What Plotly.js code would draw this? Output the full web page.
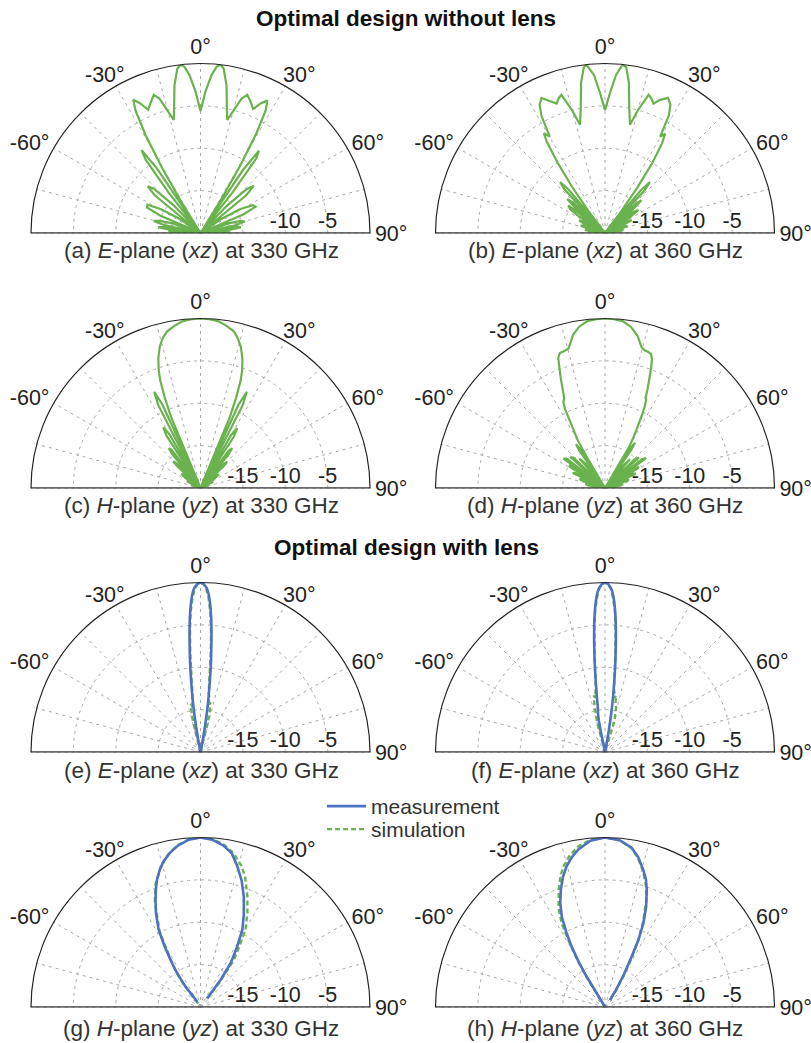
<!DOCTYPE html>
<html><head><meta charset="utf-8">
<script src="https://cdn.plot.ly/plotly-3.0.1.min.js"></script>
<style>html,body{margin:0;padding:0;background:#fff}#chart{width:811px;height:1043px}</style>
</head><body><div id="chart"></div>
<script>
// ---------- data (theta in degrees, r in dB) ----------
// (a) E-plane (xz) 330 GHz, without lens
const thetaA = [-90,-88,-86.5,-85,-83.5,-82,-80.5,-79,-77.5,-75.5,-73.5,-71,-68.5,-66.5,-64.5,-62,-59,-56,-52.5,-50.5,-48.5,-46.5,-44,-40,-38.3,-36.8,-35.4,-34,-32.8,-31.8,-30.6,-29.3,-28,-26.8,-25,-23,-20.5,-18.7,-17,-15,-13.3,-11.8,-10,-8,-6.8,-5.5,-4,-2,0,2,4,5.5,6.8,8,10,11.8,13.3,15,17,18.7,20.5,23,25,26.8,28,29.3,30.6,31.8,32.8,34,35.4,36.8,38.3,40,44,46.5,48.5,50.5,52.5,56,59,62,64.5,66.5,68.5,71,73.5,75.5,77.5,79,80.5,82,83.5,85,86.5,88,90];
const rA = [-20,-16.8,-16.2,-20,-16,-15,-15.6,-20,-15.5,-14.3,-15,-16.5,-20,-14.8,-13,-12.9,-14.5,-17,-20,-13,-11.7,-12.4,-15.5,-20,-14,-9.2,-8,-10.8,-20,-16,-11.2,-6.8,-3.7,-2.4,-3.1,-4.2,-3.4,-2.8,-3.4,-5.1,-6.3,-4.8,-2.3,-0.4,0,-0.3,-1.3,-3.3,-5.6,-3.3,-1.3,-0.3,0,-0.4,-2.3,-4.8,-6.3,-5.1,-3.4,-2.8,-3.3,-4.1,-3.1,-2.5,-3.6,-6.5,-11,-16,-20,-11,-8.1,-9,-14,-20,-15.5,-12.5,-11.6,-13,-20,-17,-14.5,-13,-12.8,-14.5,-20,-16.5,-15,-14.6,-15.8,-20,-15.5,-15.2,-16.5,-20,-16.5,-17,-20];

// (b) E-plane (xz) 360 GHz, without lens
const thetaB = [-90,-87.5,-85,-83,-81,-79,-77,-75,-73,-71,-68,-66,-64,-62,-59.5,-57.5,-55.5,-53,-51,-49.5,-48,-46.5,-44.5,-43,-41.4,-40,-38.5,-37,-35.5,-34,-32.5,-31.5,-29.8,-28.5,-27,-25.2,-22.8,-20.5,-19,-17.5,-15,-13,-11,-9,-7.3,-6.3,-4,-2,0,2,4,6,7.3,9,11,13,15,17.5,19,20.5,22.5,25,27,28.5,29.8,31.2,32.5,34,35.5,37,38.5,40,41.4,43,44.5,46.5,48,49.5,51,53.5,55.5,57.5,59.5,62,64,66,68,71,73,75,77,79,81,83,85,87.5,90];
const rB = [-20,-18.6,-20,-18.2,-17.6,-18,-20,-17.8,-17,-17.3,-20,-17.3,-16.6,-17,-20,-16.2,-15,-14.6,-20,-15.3,-14,-14.8,-20,-13,-12,-13.3,-20,-16.8,-13.3,-10,-7.2,-6.2,-6.9,-4.3,-3,-2.4,-3.1,-3.7,-3.2,-2.9,-5,-6.9,-5,-2,-0.3,0,-1.3,-3.5,-5.5,-3.5,-1.3,0,-0.3,-2,-5,-6.9,-5,-2.9,-3.2,-3.7,-3,-2.4,-3,-4.2,-6.9,-6.3,-7.5,-10,-13.5,-17,-20,-13.5,-12,-13.2,-20,-15,-14.2,-15.5,-20,-15.8,-15.2,-16.5,-20,-17,-16.5,-17.5,-20,-17.5,-17.2,-18,-20,-18,-17.8,-18.5,-20,-18.8,-20];

// (c) H-plane (yz) 330 GHz, without lens
const thetaC = [-90,-84,-78,-72,-66,-64,-62,-58,-56,-54,-52,-49,-47,-45.5,-44,-41.5,-40,-38.5,-37,-34.5,-33,-31.5,-30,-28,-27,-25.7,-24.5,-23.5,-22.5,-21.5,-20.5,-19.5,-18,-16,-14,-12,-9,-6,-3,0,3,6,9,12,14,16,18,19.5,20.5,21.5,22.5,23.5,24.5,25.7,27,28,30,31.5,33,34.5,37,38.5,40,41.5,44,45.5,47,49,52,54,56,58,62,64,66,72,78,84,90];
const rC = [-20,-19.5,-20,-18.8,-20,-18.2,-18.4,-20,-17.8,-17.2,-17.5,-20,-16.2,-15.5,-16,-20,-14.8,-14,-14.4,-20,-12.6,-11.6,-12.7,-20,-9,-7.4,-9.2,-20,-10.8,-8.4,-6.4,-5.2,-3.9,-2.6,-1.7,-1.1,-0.6,-0.2,-0.05,0,-0.05,-0.2,-0.6,-1.1,-1.8,-2.7,-4,-5.3,-6.5,-8.5,-11,-20,-9.2,-7.4,-9,-20,-12.8,-11.7,-12.8,-20,-14.5,-14,-15,-20,-16,-15.6,-16.3,-20,-17.5,-17.3,-18,-20,-18.5,-18.3,-20,-19,-20,-19.4,-20];

// (d) H-plane (yz) 360 GHz, without lens
const thetaD = [-90,-87,-84,-81,-78,-75,-72,-70,-67,-65,-63,-61,-59,-57.5,-56,-54.8,-52.5,-50,-48,-46,-43,-41,-39,-36,-34.5,-33.5,-32.5,-31.5,-30.5,-29.7,-28.5,-26.8,-25.8,-24.5,-21.9,-19.8,-18.5,-17,-14.7,-11.7,-9,-6,-3,0,3,6,9,12,14.5,16,17.5,19,20,21,22,23.3,24.3,25,26,27,28.5,29.5,30.5,31.5,32.5,33.5,34.5,36,39,41,43,46,48,50,52,54,56,57.5,59,61,63,65,67,70,72,75,78,81,84,87,90];
const rD = [-20,-18.4,-20,-18,-17.6,-20,-17,-16.8,-20,-15.8,-16,-20,-15.2,-15,-20,-14,-14.3,-20,-14.5,-15,-20,-15.4,-16.3,-20,-14.6,-13.8,-14.6,-20,-15.7,-13.5,-12.3,-9.5,-8.7,-8.4,-6,-3.7,-3.2,-3.15,-3,-1.5,-0.7,-0.2,-0.05,0,-0.05,-0.2,-0.7,-1.6,-2.8,-3.1,-3.15,-3.3,-3.8,-4.8,-6,-7.3,-8.4,-8.5,-9.3,-10.5,-12.3,-13.3,-14.5,-20,-14.5,-13.6,-14.5,-20,-16.5,-15.5,-20,-15.2,-14.6,-20,-14.5,-14,-20,-15.3,-15.5,-20,-16.2,-16,-20,-17,-17.2,-20,-17.8,-18.2,-20,-18.5,-20];

// (e) E-plane (xz) 330 GHz, with lens
const thetaEmeas = [-11.5,-11,-10.5,-10,-9.5,-9,-8.5,-8,-7.5,-7,-6.5,-6,-5.5,-5,-4.5,-4,-3.5,-3,-2.5,-2,-1,0,1,2,2.5,3,3.5,4,4.5,5,5.5,6,6.5,7,7.5,8,8.5,9,9.5,10,10.5,11,11.5];
const rEmeas = [-20,-19.5,-18.5,-17.3,-16,-14.9,-13.8,-12.7,-11.5,-10.2,-9,-7.8,-6.5,-5.2,-4,-3,-2.1,-1.4,-0.9,-0.55,-0.15,0,-0.15,-0.55,-0.9,-1.4,-2.1,-3,-4,-5.2,-6.5,-7.8,-9,-10.2,-11.5,-12.7,-13.8,-14.9,-16,-17.3,-18.5,-19.5,-20];
const thetaEsim = [-15,-14,-13,-12,-11,-10,-9,-8,-7,-6,-5,-4,-3,-2,-1,0,1,2,3,4,5,6,7,8,9,10,11,12,13,14,15];
const rEsim = [-20,-16.5,-15.5,-14.6,-14.2,-14.8,-13.6,-13.2,-11.5,-8.5,-5.7,-3.4,-1.8,-0.7,-0.2,0,-0.2,-0.7,-1.8,-3.4,-5.7,-8.5,-11.5,-13,-13.4,-14.5,-14,-14.4,-15.3,-16.5,-20];

// (f) E-plane (xz) 360 GHz, with lens
const thetaFmeas = [-12,-11.5,-11,-10.5,-10,-9.5,-9,-8.5,-8,-7.5,-7,-6.5,-6,-5.5,-5,-4.5,-4,-3.5,-3,-2.5,-2,-1,0,1,2,2.5,3,3.5,4,4.5,5,5.5,6,6.5,7,7.5,8,8.5,9,9.5,10,10.5,11];
const rFmeas = [-20,-17.5,-16.2,-15.5,-15.2,-14.9,-14.5,-13.6,-12.8,-11.6,-10.4,-9.1,-7.9,-6.6,-5.3,-4.1,-3.1,-2.2,-1.5,-0.95,-0.6,-0.15,0,-0.15,-0.6,-0.95,-1.5,-2.2,-3.1,-4.1,-5.3,-6.6,-7.9,-9.1,-10.4,-11.6,-12.8,-13.9,-15,-16.2,-17.5,-19,-20];
const thetaFsim = [-16,-15,-14,-13,-12,-11,-10,-9,-8,-7,-6,-5,-4,-3,-2,-1,0,1,2,3,4,5,6,7,8,9,10,11,12,13,14,15,16,17,18];
const rFsim = [-20,-16.5,-15.8,-14.6,-13.8,-13.2,-13.5,-12.8,-12.2,-10.8,-8.3,-5.6,-3.3,-1.8,-0.7,-0.2,0,-0.2,-0.7,-1.8,-3.3,-5.6,-8.3,-10.9,-12.4,-12.9,-13.6,-13.2,-14,-14.4,-14.6,-15.2,-15.8,-16.5,-20];

// (g) H-plane (yz) 330 GHz, with lens
const thetaGmeas = [-32,-34.5,-36.4,-35.2,-33.8,-32.5,-30.5,-28.4,-25.5,-22.8,-20.5,-18.8,-16.5,-14.2,-11,-8.3,-4,0,4,8.3,11.5,14.6,18,21.4,25,28.4,31.5,34.5,36.5,37.6];
const rGmeas = [-19.3,-18.5,-17,-15.8,-14.5,-13.4,-11.6,-9.6,-7.8,-6.3,-5,-4.1,-3.1,-2.25,-1.4,-0.83,-0.2,0,-0.2,-0.8,-1.5,-2.8,-4.3,-6,-7.9,-9.6,-11.8,-13.7,-16,-18.7];
const thetaGsim = [-34,-36.5,-37,-35,-32,-28.5,-23.5,-20,-16,-12,-8,-4,0,4,8,12,16,19,22.9,26.5,30.3,33,35.3,37.8,39];
const rGsim = [-19.5,-18.5,-17,-15,-13.3,-9.9,-6.5,-4.5,-2.9,-1.6,-0.7,-0.2,0,-0.15,-0.6,-1.4,-2.6,-3.8,-5.8,-7.6,-9.5,-11.8,-13.2,-16.5,-18.8];

// (h) H-plane (yz) 360 GHz, with lens
const thetaHmeas = [-30,-31,-31.1,-30.2,-28.9,-27.3,-25.6,-23.2,-20.6,-18,-15.3,-12.5,-9.6,-5,0,5,9.5,12.5,15.6,17.8,19.6,22.3,24.6,26.5,27.9,30,33,35.5];
const rHmeas = [-20,-18,-15.8,-13.8,-11.8,-10,-8.2,-6.6,-5.2,-3.9,-2.8,-1.9,-1.15,-0.3,0,-0.25,-0.95,-1.9,-3.2,-4.2,-5.3,-7.2,-9.1,-11.2,-13.3,-15.5,-17.6,-19];
const thetaHsim = [-31,-32,-31.6,-30.3,-28.8,-27.4,-25.3,-21.5,-18.8,-16.5,-13,-9.5,-5,0,5,9.5,12.5,15.5,18.5,21,24,26.5,28.5,31,33.5,35];
const rHsim = [-20,-17.8,-15.6,-13.4,-11.2,-8.9,-7.2,-5.1,-3.7,-2.7,-1.6,-0.8,-0.18,0,-0.25,-1.0,-2.0,-3.3,-4.8,-6.4,-8.9,-11.2,-13.4,-15.6,-17.8,-19.3];

// axis ticks and labels
const radialRange = [-20, 0];
const radTickVals = [-15, -10, -5];
const radTickText = ['-15', '-10', '-5'];
const radTickTextA = ['', '-10', '-5'];
const angTickVals = [-90,-75,-60,-45,-30,-15,0,15,30,45,60,75,90];
const angTickText = ['', '', '-60°', '', '', '', '0°', '', '', '', '60°', '', '90°'];
const angLabels30 = ['-30°', '30°'];   // placed as text next to the +/-30 degree spokes

const captions = [
  '(a) <i>E</i>-plane (<i>xz</i>) at 330 GHz',
  '(b) <i>E</i>-plane (<i>xz</i>) at 360 GHz',
  '(c) <i>H</i>-plane (<i>yz</i>) at 330 GHz',
  '(d) <i>H</i>-plane (<i>yz</i>) at 360 GHz',
  '(e) <i>E</i>-plane (<i>xz</i>) at 330 GHz',
  '(f) <i>E</i>-plane (<i>xz</i>) at 360 GHz',
  '(g) <i>H</i>-plane (<i>yz</i>) at 330 GHz',
  '(h) <i>H</i>-plane (<i>yz</i>) at 360 GHz'
];
const sectionTitles = ['Optimal design without lens', 'Optimal design with lens'];
const legendNames = ['measurement', 'simulation'];

// ---------- layout geometry ----------
const W = 811, H = 1043, R = 169.5;
const colCenters = [200.5, 605];
const rowBaselines = [233, 488, 752, 1007];
const GREEN = '#6ab24e', BLUE = '#4d72bf', GRID = '#a9a9a9';
const FONT = 'Liberation Sans, Arial, sans-serif';

function polarLayout(col, row, ticktext) {
  const cx = colCenters[col], base = rowBaselines[row];
  return {
    domain: {x: [(cx - R) / W, (cx + R) / W], y: [(H - base) / H, (H - base + R) / H]},
    sector: [0, 180],
    bgcolor: 'rgba(0,0,0,0)',
    angularaxis: {
      rotation: 90, direction: 'clockwise', thetaunit: 'degrees',
      tickmode: 'array', tickvals: angTickVals, ticktext: angTickText,
      showline: true, linecolor: '#222', linewidth: 1.2,
      showgrid: true, gridcolor: GRID, gridwidth: 1, griddash: '3px,4px',
      ticks: '', tickfont: {family: FONT, size: 21.5, color: '#222'}
    },
    radialaxis: {
      range: radialRange, autorange: false,
      tickmode: 'array', tickvals: radTickVals, ticktext: ticktext,
      showline: false, ticks: '', angle: 0, side: 'counterclockwise',
      showgrid: true, gridcolor: GRID, gridwidth: 1, griddash: '3px,4px',
      tickfont: {family: FONT, size: 21.5, color: '#222'}
    }
  };
}

const panels = [
  {col: 0, row: 0, tt: radTickTextA, curves: [{th: thetaA, r: rA, kind: 'plain'}]},
  {col: 1, row: 0, tt: radTickText, curves: [{th: thetaB, r: rB, kind: 'plain'}]},
  {col: 0, row: 1, tt: radTickText, curves: [{th: thetaC, r: rC, kind: 'plain'}]},
  {col: 1, row: 1, tt: radTickText, curves: [{th: thetaD, r: rD, kind: 'plain'}]},
  {col: 0, row: 2, tt: radTickText, curves: [{th: thetaEsim, r: rEsim, kind: 'sim'}, {th: thetaEmeas, r: rEmeas, kind: 'meas'}]},
  {col: 1, row: 2, tt: radTickText, curves: [{th: thetaFsim, r: rFsim, kind: 'sim'}, {th: thetaFmeas, r: rFmeas, kind: 'meas'}]},
  {col: 0, row: 3, tt: radTickText, curves: [{th: thetaGsim, r: rGsim, kind: 'sim', legend: 'legend2'}, {th: thetaGmeas, r: rGmeas, kind: 'meas', legend: 'legend'}]},
  {col: 1, row: 3, tt: radTickText, curves: [{th: thetaHsim, r: rHsim, kind: 'sim'}, {th: thetaHmeas, r: rHmeas, kind: 'meas'}]}
];

const legendBox = (top) => ({x: 322 / W, y: 1 - top / H, xanchor: 'left', yanchor: 'top',
  font: {family: FONT, size: 21, color: '#333'}, bgcolor: 'rgba(0,0,0,0)', itemwidth: 39, tracegroupgap: 0});

const data = [];
const layout = {
  width: W, height: H, margin: {l: 0, r: 0, t: 0, b: 0},
  paper_bgcolor: '#fff', plot_bgcolor: '#fff',
  font: {family: FONT, color: '#222'},
  showlegend: true,
  legend: legendBox(786),
  legend2: legendBox(809),
  annotations: []
};

panels.forEach((p, i) => {
  const key = i === 0 ? 'polar' : 'polar' + (i + 1);
  layout[key] = polarLayout(p.col, p.row, p.tt);
  // baseline (diameter at the outer radius, through the centre)
  data.push({type: 'scatterpolar', subplot: key, mode: 'lines', theta: [-90, 90], r: [radialRange[1], radialRange[1]],
             line: {color: '#9a9a9a', width: 1.6}, showlegend: false, hoverinfo: 'skip'});
  p.curves.forEach(c => {
    const tr = {type: 'scatterpolar', subplot: key, mode: 'lines', theta: c.th, r: c.r, hoverinfo: 'skip', showlegend: false};
    if (c.kind === 'plain') tr.line = {color: GREEN, width: 2.2};
    if (c.kind === 'sim') { tr.line = {color: GREEN, width: 2.4, dash: '5px,3px'}; tr.name = legendNames[1]; }
    if (c.kind === 'meas') { tr.line = {color: BLUE, width: 2.6}; tr.name = legendNames[0]; }
    if (c.legend) { tr.showlegend = true; tr.legend = c.legend; }
    data.push(tr);
  });
  const cx = colCenters[p.col], base = rowBaselines[p.row];
  // +/-30 degree labels, set just outside the arc
  [-1, 1].forEach((s, k) => {
    layout.annotations.push({xref: 'paper', yref: 'paper', x: (cx + s * 97.5 + 1.5) / W, y: 1 - (base - 157.5) / H,
      xanchor: 'center', yanchor: 'middle', showarrow: false, text: angLabels30[k],
      font: {family: FONT, size: 21.5, color: '#222'}});
  });
  const capY = [250, 505, 770, 1028][p.row];
  layout.annotations.push({xref: 'paper', yref: 'paper', x: [201, 605][p.col] / W, y: 1 - capY / H,
    xanchor: 'center', yanchor: 'middle', showarrow: false, text: captions[i],
    font: {family: FONT, size: 22.5, color: '#333'}});
});

[[18, 0], [547, 1]].forEach(([yy, k]) => {
  layout.annotations.push({xref: 'paper', yref: 'paper', x: 406 / W, y: 1 - yy / H, xanchor: 'center', yanchor: 'middle',
    showarrow: false, text: '<b>' + sectionTitles[k] + '</b>', font: {family: FONT, size: 22.5, color: '#111'}});
});

Plotly.newPlot('chart', data, layout, {staticPlot: true, displayModeBar: false});
</script>
</body></html>
